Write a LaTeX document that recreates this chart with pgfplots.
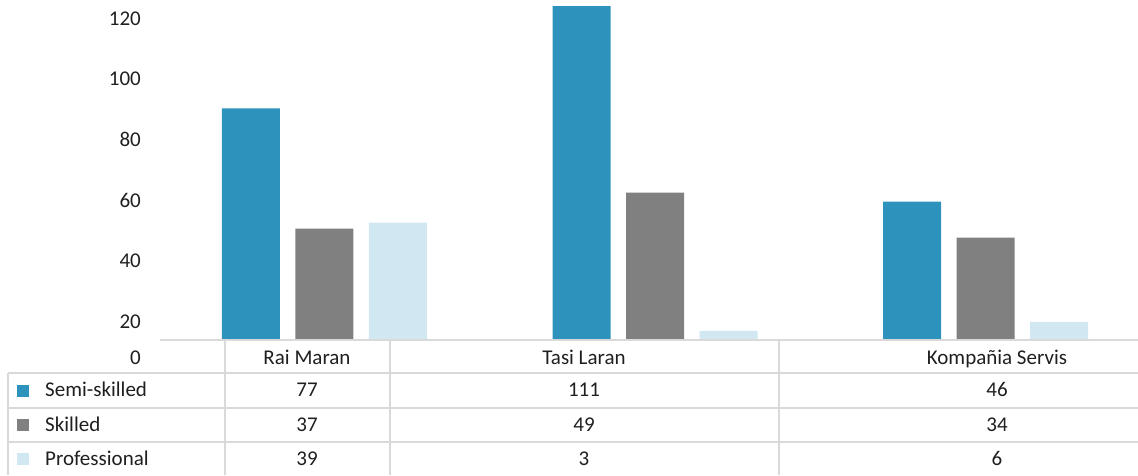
\documentclass[border=0pt]{standalone}
\usepackage{fontspec}
\setmainfont{Carlito}
\usepackage{pgfplots}
\pgfplotsset{compat=1.18}
\definecolor{semi}{HTML}{2E93BC}
\definecolor{skilled}{HTML}{808080}
\definecolor{prof}{HTML}{D1E8F2}
\definecolor{rule}{HTML}{D9D9D9}
\definecolor{txt}{HTML}{1F1F1F}

\begin{document}
\begin{tikzpicture}[font=\fontsize{21}{25}\selectfont, text=txt]
\begin{axis}[
  scale only axis,
  width=978pt, height=475pt,
  xmin=-0.4977, xmax=2.4614,
  ymin=-44.87, ymax=113,
  ybar=15.5pt, bar width=58pt,
  axis line style={draw=none},
  tick style={draw=none},
  xtick=\empty,
  ytick={-6,6,26.4,46.4,66.8,86.7,106.7},
  yticklabels={0,20,40,60,80,100,120},
  yticklabel style={anchor=east, inner sep=0pt, xshift=-19pt,
    font=\fontsize{21}{25}\selectfont, text=txt},
  /pgf/number format/assume math mode=true,
]
\addplot[fill=semi, draw=none] coordinates {(0,77) (1,111) (2,46)};
\addplot[fill=skilled, draw=none] coordinates {(0,37) (1,49) (2,34)};
\addplot[fill=prof, draw=none] coordinates {(0,39) (1,3) (2,6)};
\end{axis}
% data table below the plot, in pixel units
\begin{scope}[x=1pt, y=-1pt, shift={(-160pt,475pt)}]
  \draw[rule, line width=1.5pt] (160,340) -- (1138,340);
  \foreach \yy in {373,408,442}
    \draw[rule, line width=1.5pt] (8,\yy) -- (1138,\yy);
  \draw[rule, line width=1.5pt] (8,373) -- (8,475);
  \foreach \xx in {225,390,779}
    \draw[rule, line width=1.5pt] (\xx,340) -- (\xx,475);
  % header
  \node[anchor=base] at (307,364) {Rai Maran};
  \node[anchor=base] at (584,364) {Tasi Laran};
  \node[anchor=base] at (997,364) {Kompañia Servis};
  % rows
  \fill[semi] (17,385) rectangle (29,397);
  \fill[skilled] (17,419) rectangle (29,431);
  \fill[prof] (17,453) rectangle (29,465);
  \node[anchor=base west, inner sep=0pt] at (45,396.7) {Semi-skilled};
  \node[anchor=base west, inner sep=0pt] at (45,431) {Skilled};
  \node[anchor=base west, inner sep=0pt] at (45,465) {Professional};
  \node[anchor=base] at (307,396.7) {77};
  \node[anchor=base] at (584,396.7) {111};
  \node[anchor=base] at (997,396.7) {46};
  \node[anchor=base] at (307,431) {37};
  \node[anchor=base] at (584,431) {49};
  \node[anchor=base] at (997,431) {34};
  \node[anchor=base] at (307,465) {39};
  \node[anchor=base] at (584,465) {3};
  \node[anchor=base] at (997,465) {6};
  \pgfresetboundingbox
  \path (0,0) rectangle (1138,475);
\end{scope}
\end{tikzpicture}
\end{document}
